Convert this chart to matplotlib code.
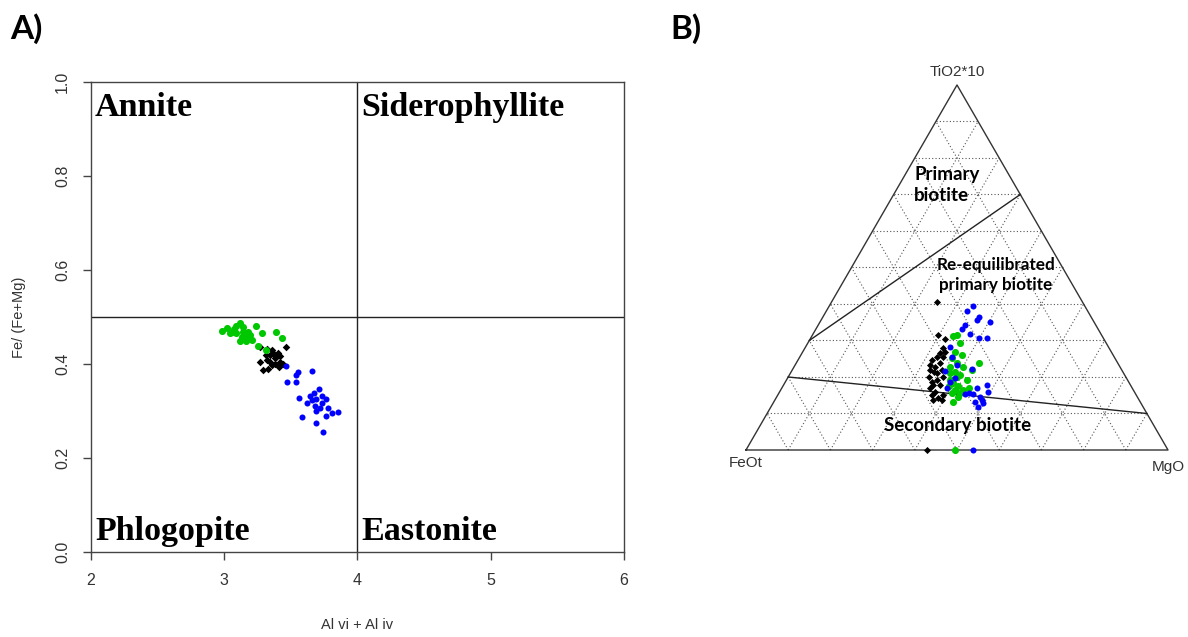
import numpy as np
import matplotlib
matplotlib.use("Agg")
import matplotlib.pyplot as plt

#%% Data - panel A (Al vi + Al iv vs Fe/(Fe+Mg))
green_x = [2.98, 3.02, 3.06, 3.09, 3.12, 3.14, 3.18, 3.09, 3.13, 3.16, 3.19, 3.24,
           3.28, 3.39, 3.43, 3.25, 3.31, 3.12, 3.17, 3.07, 3.21, 3.04, 3.14]
green_y = [0.471, 0.476, 0.469, 0.481, 0.487, 0.478, 0.469, 0.465, 0.458, 0.448, 0.462, 0.480,
           0.467, 0.469, 0.456, 0.439, 0.430, 0.448, 0.457, 0.474, 0.451, 0.465, 0.469]
black_x = [3.27, 3.32, 3.36, 3.40, 3.46, 3.34, 3.38, 3.42, 3.32, 3.27, 3.36, 3.41,
           3.33, 3.29, 3.44, 3.37, 3.31, 3.39, 3.34, 3.38, 3.42]
black_y = [0.437, 0.431, 0.430, 0.424, 0.437, 0.419, 0.412, 0.405, 0.409, 0.405, 0.398, 0.394,
           0.390, 0.387, 0.400, 0.421, 0.419, 0.414, 0.405, 0.401, 0.416]
blue_x = [3.46, 3.55, 3.54, 3.66, 3.47, 3.54, 3.56, 3.71, 3.67, 3.64, 3.69, 3.73, 3.76,
          3.62, 3.68, 3.72, 3.78, 3.81, 3.85, 3.69, 3.58, 3.76, 3.69, 3.74, 3.66, 3.73]
blue_y = [0.396, 0.384, 0.377, 0.385, 0.362, 0.362, 0.328, 0.346, 0.338, 0.331, 0.325, 0.331, 0.326,
          0.318, 0.311, 0.306, 0.306, 0.295, 0.297, 0.299, 0.287, 0.290, 0.274, 0.256, 0.323, 0.316]

field_names = ["Annite", "Siderophyllite", "Phlogopite", "Eastonite"]

#%% Data - panel B ternary (TiO2*10 %, MgO %; FeOt = rest)
tern_black_ti = [40.6, 31.5, 30.3, 27.9, 26.5, 25.6, 24.7, 23.3, 22.8, 23.8, 25.6, 21.5, 20.1, 18.7, 19.2,
                 20.1, 17.8, 16.9, 16.0, 14.2, 13.7, 13.7, 15.1, 15.1, 21.0, 21.9, 21.9, 26.9, 17.8, 0.0]
tern_black_mg = [24.9, 29.8, 32.0, 32.8, 32.7, 32.4, 31.7, 32.0, 33.4, 34.1, 34.0, 33.7, 33.2, 34.7, 35.6,
                 36.7, 37.1, 35.2, 36.8, 38.5, 37.5, 39.5, 39.2, 36.5, 34.7, 35.4, 32.7, 33.7, 35.5, 42.8]
tern_green_ti = [31.5, 31.1, 29.2, 26.9, 26.0, 25.1, 23.8, 22.8, 22.8, 21.5, 20.6, 19.2, 19.2, 18.3,
                 17.4, 16.4, 16.4, 15.5, 15.5, 23.8, 21.9, 13.2, 14.6, 17.4, 20.1, 16.9, 21.0, 0.0]
tern_green_mg = [34.2, 33.6, 36.1, 36.1, 38.1, 36.2, 38.1, 36.9, 40.1, 38.8, 40.4, 42.7, 38.7, 40.0,
                 41.6, 43.3, 41.3, 41.0, 43.0, 43.2, 42.5, 42.5, 43.0, 39.3, 39.9, 44.3, 37.8, 49.5]
tern_blue_ti = [39.5, 38.2, 36.4, 35.6, 35.0, 34.3, 33.1, 31.7, 30.8, 30.8, 28.3, 25.6, 23.3, 21.7, 22.2,
                18.7, 19.6, 16.9, 16.9, 15.5, 15.3, 14.6, 17.8, 13.7, 11.9, 16.0, 15.3, 12.8, 13.2, 0.0]
tern_blue_mg = [34.1, 33.2, 36.9, 36.9, 40.3, 34.8, 34.6, 37.2, 39.7, 41.6, 34.2, 36.0, 38.3, 36.3, 42.4,
                39.0, 39.7, 39.1, 46.2, 45.0, 46.2, 48.2, 48.1, 49.0, 49.1, 49.4, 44.2, 49.8, 47.7, 53.9]

# field boundaries (TiO2 %, MgO %) end points
upper_line = [(30, 0), (70, 30)]
lower_line = [(20, 0), (10, 90)]

GREEN = "#00c800"
BLUE = "#0000ff"
R_FONT = "Liberation Sans"
LABEL_FONT = ["Lato", "DejaVu Sans"]


def tern_xy(ti, mg):
    ti = np.asarray(ti, dtype=float) / 100
    mg = np.asarray(mg, dtype=float) / 100
    return mg + ti / 2, ti * np.sqrt(3) / 2


fig = plt.figure(figsize=(11.88, 6.37), dpi=100)

#%% Panel A
ax = fig.add_axes([91 / 1188, 1 - 552 / 637, 533 / 1188, 470 / 637])
ax.scatter(black_x, black_y, marker="D", s=15, color="black", linewidths=0, zorder=3)
ax.scatter(green_x, green_y, marker="o", s=26, color=GREEN, linewidths=0, zorder=3)
ax.scatter(blue_x, blue_y, marker="o", s=19, color=BLUE, linewidths=0, zorder=4)
ax.axvline(4, color="#222222", lw=1.0)
ax.axhline(0.5, color="#222222", lw=1.0)
ax.set_xlim(2, 6)
ax.set_ylim(0, 1)
ax.set_xticks([2, 3, 4, 5, 6])
ax.set_yticks([0.0, 0.2, 0.4, 0.6, 0.8, 1.0])
ax.set_yticklabels(["0.0", "0.2", "0.4", "0.6", "0.8", "1.0"], rotation=90, va="center")
ax.tick_params(length=6, width=1, color="#444444", labelsize=11.5, pad=9)
for lab in ax.get_xticklabels() + ax.get_yticklabels():
    lab.set_fontfamily(R_FONT)
    lab.set_color("#333333")
for sp in ax.spines.values():
    sp.set_color("#444444")
    sp.set_linewidth(1.0)
ax.set_xlabel("Al vi + Al iv", fontsize=10.5, family=R_FONT, color="#333333", labelpad=22)
ax.set_ylabel("Fe/ (Fe+Mg)", fontsize=10.5, family=R_FONT, color="#333333", labelpad=21)

name_pos = [(2.03, 0.945), (4.03, 0.945), (2.03, 0.043), (4.03, 0.043)]
for name, (tx, ty) in zip(field_names, name_pos):
    ax.text(tx, ty, name, family="Liberation Serif", fontweight="bold", fontsize=24.5,
            ha="left", va="center")

#%% Panel B (ternary)
axt = fig.add_axes([700 / 1188, 1 - 480 / 637, 488 / 1188, 430 / 637])
axt.set_xlim((700 - 746) / 422, (1188 - 746) / 422)
axt.set_ylim((450 - 480) / 421.5, (450 - 50) / 421.5)
axt.axis("off")

# dotted grid
for k in range(1, 10):
    c = k * 10
    gx, gy = tern_xy([c, c], [0, 100 - c])
    axt.plot(gx, gy, ls=(0, (1, 2)), color="#555555", lw=0.8)
    gx, gy = tern_xy([0, 100 - c], [c, c])
    axt.plot(gx, gy, ls=(0, (1, 2)), color="#555555", lw=0.8)
    gx, gy = tern_xy([0, 100 - c], [100 - c, 0])
    axt.plot(gx, gy, ls=(0, (1, 2)), color="#555555", lw=0.8)

# outline
ox, oy = tern_xy([0, 0, 100, 0], [0, 100, 0, 0])
axt.plot(ox, oy, color="#333333", lw=1.0)

for seg in (upper_line, lower_line):
    sx, sy = tern_xy([p[0] for p in seg], [p[1] for p in seg])
    axt.plot(sx, sy, color="#222222", lw=1.0)

bx, by = tern_xy(tern_black_ti, tern_black_mg)
axt.scatter(bx, by, marker="D", s=13, color="black", linewidths=0, zorder=3)
gx, gy = tern_xy(tern_green_ti, tern_green_mg)
axt.scatter(gx, gy, marker="o", s=26, color=GREEN, linewidths=0, zorder=3)
ux, uy = tern_xy(tern_blue_ti, tern_blue_mg)
axt.scatter(ux, uy, marker="o", s=19, color=BLUE, linewidths=0, zorder=4)

axt.text(0.5, (450 - 72) / 421.5, "TiO2*10", family=R_FONT, fontsize=11, color="#333333",
         ha="center", va="center")
axt.text(0.0, (450 - 463) / 421.5, "FeOt", family=R_FONT, fontsize=11, color="#333333",
         ha="center", va="center")
axt.text(1.0, (450 - 467) / 421.5, "MgO", family=R_FONT, fontsize=11, color="#333333",
         ha="center", va="center")

axt.text((914 - 746) / 422, (450 - 185) / 421.5, "Primary\nbiotite", family=LABEL_FONT,
         fontweight="bold", fontsize=13.5, ha="left", va="center", linespacing=1.3)
axt.text((996 - 746) / 422, (450 - 275) / 421.5, "Re-equilibrated\nprimary biotite", family=LABEL_FONT,
         fontweight="bold", fontsize=12.3, ha="center", va="center", linespacing=1.35)
axt.text((958 - 746) / 422, (450 - 425) / 421.5, "Secondary biotite", family=LABEL_FONT,
         fontweight="bold", fontsize=13.5, ha="center", va="center")

#%% Panel letters
fig.text(10 / 1188, 1 - 29 / 637, "A)", family=LABEL_FONT, fontweight="bold", fontsize=24,
         ha="left", va="center")
fig.text(670 / 1188, 1 - 29 / 637, "B)", family=LABEL_FONT, fontweight="bold", fontsize=24,
         ha="left", va="center")

fig.savefig("out.png", dpi=100)
